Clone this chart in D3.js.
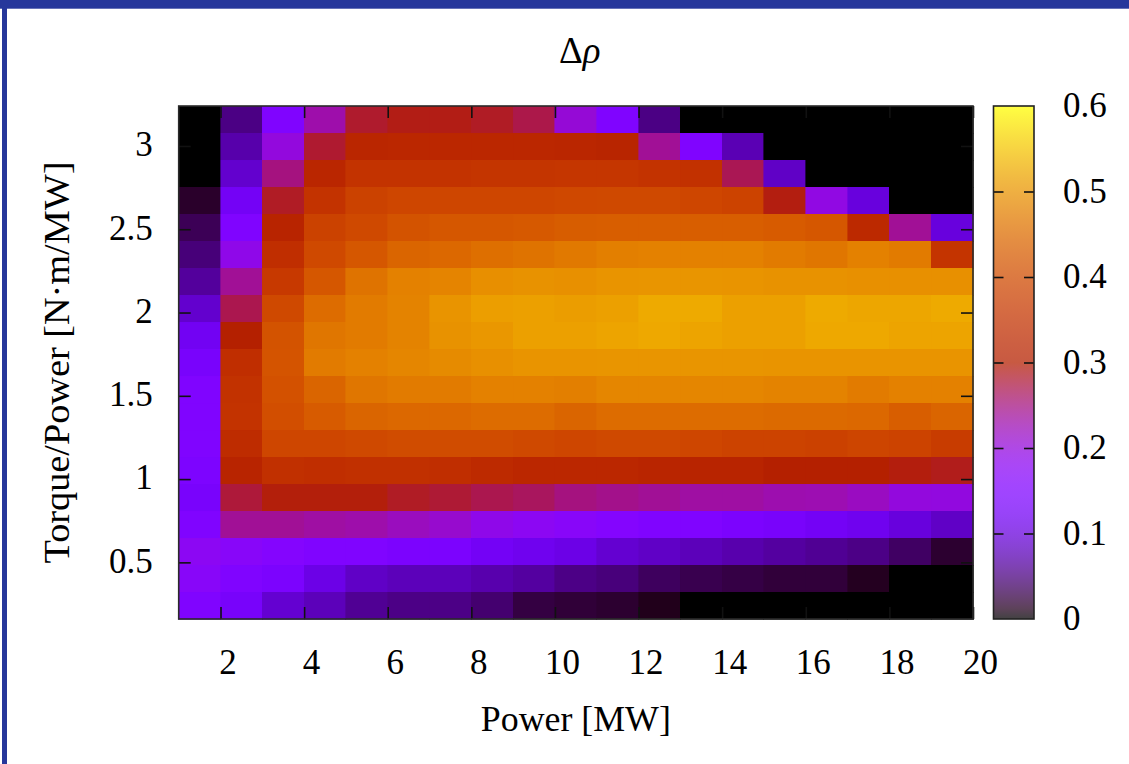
<!DOCTYPE html>
<html>
<head>
<meta charset="utf-8">
<script src="https://cdn.jsdelivr.net/npm/d3@7"></script>
<style>
  html, body { margin: 0; padding: 0; background: #fff; }
  svg { display: block; }
  text { font-family: "Liberation Serif", "Times New Roman", serif; fill: #000; }
</style>
</head>
<body>
<svg id="chart" width="1129" height="764"></svg>
<script>
// Column centres: power [MW]
const power = [1.5, 2.5, 3.5, 4.5, 5.5, 6.5, 7.5, 8.5, 9.5, 10.5,
               11.5, 12.5, 13.5, 14.5, 15.5, 16.5, 17.5, 18.5, 19.5];

// Row centres: torque/power [N·m/MW], listed from the top row down
const ratio = [3.157, 2.995, 2.833, 2.671, 2.509, 2.347, 2.185, 2.023, 1.861, 1.699,
               1.537, 1.375, 1.213, 1.051, 0.889, 0.727, 0.565, 0.403, 0.241];

// Δρ for each (ratio row, power column)
const deltaRho = [
  [0.000, 0.052, 0.150, 0.230, 0.283, 0.292, 0.292, 0.286, 0.272, 0.205, 0.150, 0.052, 0, 0, 0, 0, 0, 0, 0],
  [0.000, 0.070, 0.200, 0.282, 0.318, 0.322, 0.322, 0.322, 0.322, 0.318, 0.314, 0.240, 0.150, 0.075, 0, 0, 0, 0, 0],
  [0.000, 0.090, 0.250, 0.318, 0.350, 0.352, 0.352, 0.356, 0.356, 0.358, 0.358, 0.352, 0.346, 0.268, 0.085, 0, 0, 0, 0],
  [0.016, 0.125, 0.286, 0.352, 0.382, 0.390, 0.390, 0.390, 0.390, 0.394, 0.396, 0.396, 0.390, 0.384, 0.294, 0.195, 0.100, 0, 0],
  [0.033, 0.150, 0.312, 0.382, 0.396, 0.412, 0.420, 0.420, 0.422, 0.428, 0.430, 0.430, 0.430, 0.430, 0.425, 0.420, 0.326, 0.240, 0.100],
  [0.047, 0.190, 0.340, 0.396, 0.420, 0.440, 0.445, 0.455, 0.460, 0.468, 0.476, 0.478, 0.478, 0.478, 0.470, 0.464, 0.478, 0.470, 0.354],
  [0.063, 0.240, 0.364, 0.420, 0.460, 0.478, 0.482, 0.495, 0.498, 0.496, 0.500, 0.502, 0.502, 0.500, 0.498, 0.498, 0.496, 0.496, 0.496],
  [0.090, 0.270, 0.396, 0.450, 0.470, 0.480, 0.500, 0.512, 0.514, 0.510, 0.514, 0.524, 0.524, 0.514, 0.514, 0.524, 0.520, 0.520, 0.524],
  [0.120, 0.300, 0.412, 0.464, 0.470, 0.480, 0.498, 0.504, 0.514, 0.514, 0.518, 0.522, 0.518, 0.514, 0.514, 0.522, 0.522, 0.518, 0.518],
  [0.135, 0.340, 0.415, 0.470, 0.478, 0.484, 0.490, 0.496, 0.500, 0.500, 0.502, 0.502, 0.502, 0.502, 0.500, 0.500, 0.500, 0.500, 0.500],
  [0.150, 0.348, 0.410, 0.440, 0.464, 0.470, 0.470, 0.478, 0.478, 0.476, 0.484, 0.484, 0.484, 0.484, 0.480, 0.480, 0.470, 0.478, 0.478],
  [0.150, 0.350, 0.405, 0.425, 0.440, 0.445, 0.445, 0.450, 0.450, 0.440, 0.450, 0.450, 0.450, 0.450, 0.448, 0.448, 0.445, 0.430, 0.440],
  [0.150, 0.334, 0.390, 0.390, 0.395, 0.400, 0.400, 0.400, 0.395, 0.390, 0.395, 0.395, 0.390, 0.385, 0.385, 0.380, 0.388, 0.384, 0.370],
  [0.145, 0.312, 0.345, 0.340, 0.345, 0.345, 0.340, 0.330, 0.322, 0.322, 0.322, 0.316, 0.312, 0.312, 0.300, 0.300, 0.300, 0.295, 0.290],
  [0.135, 0.278, 0.296, 0.296, 0.296, 0.286, 0.280, 0.270, 0.264, 0.250, 0.245, 0.240, 0.234, 0.234, 0.228, 0.226, 0.218, 0.200, 0.198],
  [0.150, 0.240, 0.240, 0.234, 0.230, 0.220, 0.210, 0.190, 0.180, 0.170, 0.160, 0.152, 0.150, 0.142, 0.134, 0.124, 0.116, 0.100, 0.085],
  [0.180, 0.170, 0.160, 0.150, 0.150, 0.142, 0.142, 0.124, 0.116, 0.108, 0.092, 0.085, 0.078, 0.071, 0.065, 0.059, 0.053, 0.038, 0.018],
  [0.170, 0.150, 0.142, 0.108, 0.085, 0.078, 0.078, 0.071, 0.065, 0.053, 0.048, 0.036, 0.030, 0.026, 0.022, 0.022, 0.012, 0, 0],
  [0.150, 0.133, 0.092, 0.078, 0.059, 0.053, 0.053, 0.043, 0.025, 0.021, 0.018, 0.010, 0, 0, 0, 0, 0, 0, 0]
];

const xTicks = [2, 4, 6, 8, 10, 12, 14, 16, 18, 20];
const yTicks = [0.5, 1, 1.5, 2, 2.5, 3];
const yTickLabels = ["0.5", "1", "1.5", "2", "2.5", "3"];
const cbTicks = [0, 0.1, 0.2, 0.3, 0.4, 0.5, 0.6];
const cbTickLabels = ["0", "0.1", "0.2", "0.3", "0.4", "0.5", "0.6"];
const cbRange = [0, 0.6];

// gnuplot-style palette (rgbformulae 7,5,15): sqrt(t), t^3, sin(2πt)
function palette(t) {
  t = Math.max(0, Math.min(1, t));
  const r = Math.sqrt(t);
  const g = t * t * t;
  const b = Math.max(0, Math.sin(2 * Math.PI * t));
  return d3.rgb(255 * r, 255 * g, 255 * b);
}

const svg = d3.select("#chart");
const W = 1129, H = 764;
svg.append("rect").attr("width", W).attr("height", H).attr("fill", "#fff");

// frame decoration
const frameBlue = "#26379b";
svg.append("rect").attr("x", 0).attr("y", 0).attr("width", W).attr("height", 8.7).attr("fill", frameBlue);
svg.append("rect").attr("x", 2).attr("y", 0).attr("width", 5).attr("height", H).attr("fill", frameBlue);

const plot = { left: 178.7, right: 973, top: 106, bottom: 619 };

const x = d3.scaleLinear().domain([1, 20]).range([plot.left, plot.right]);
const y = d3.scaleLinear().domain([0.16, 3.24]).range([plot.bottom, plot.top]);
const color = d3.scaleLinear().domain(cbRange).range([0, 1]).clamp(true);

const colStep = power[1] - power[0];
const rowStep = ratio[0] - ratio[1];

const cells = [];
deltaRho.forEach((row, i) => {
  row.forEach((v, j) => cells.push({ p: power[j], r: ratio[i], v }));
});

svg.append("g").attr("class", "cells")
  .attr("shape-rendering", "crispEdges")
  .selectAll("rect").data(cells).join("rect")
  .attr("x", d => x(d.p - colStep / 2))
  .attr("y", d => y(d.r + rowStep / 2))
  .attr("width", d => x(d.p + colStep / 2) - x(d.p - colStep / 2))
  .attr("height", d => y(d.r - rowStep / 2) - y(d.r + rowStep / 2))
  .attr("fill", d => palette(color(d.v)))
  .attr("stroke", d => palette(color(d.v)))
  .attr("stroke-width", 0.6);

const fs = 35;
const tickLen = 12;

// bottom axis
const gx = svg.append("g").attr("transform", `translate(0,${plot.bottom})`)
  .call(d3.axisBottom(x).tickValues(xTicks).tickSizeInner(-tickLen).tickSizeOuter(0).tickPadding(30));
// top mirror ticks
const gxt = svg.append("g").attr("transform", `translate(0,${plot.top})`)
  .call(d3.axisTop(x).tickValues(xTicks).tickSizeInner(-tickLen).tickSizeOuter(0).tickFormat(""));
// left axis
const gy = svg.append("g").attr("transform", `translate(${plot.left},0)`)
  .call(d3.axisLeft(y).tickValues(yTicks).tickSizeInner(-tickLen).tickSizeOuter(0).tickPadding(26)
    .tickFormat((d, i) => yTickLabels[i]));
// right mirror ticks
const gyr = svg.append("g").attr("transform", `translate(${plot.right},0)`)
  .call(d3.axisRight(y).tickValues(yTicks).tickSizeInner(-tickLen).tickSizeOuter(0).tickFormat(""));

[gx, gxt, gy, gyr].forEach(g => {
  g.select(".domain").remove();
  g.selectAll(".tick line").attr("stroke", "#111").attr("stroke-width", 1.6);
  g.selectAll(".tick text").style("font-family", '"Liberation Serif", serif').style("font-size", fs + "px").attr("fill", "#000");
});
gx.selectAll(".tick text").attr("dx", 7);
gy.selectAll(".tick text").attr("dy", "0.28em");

// plot border
svg.append("rect")
  .attr("x", plot.left).attr("y", plot.top)
  .attr("width", plot.right - plot.left).attr("height", plot.bottom - plot.top)
  .attr("fill", "none").attr("stroke", "#2a2a2a").attr("stroke-width", 1.6);

// colour bar
const cb = { left: 993.5, right: 1034, top: plot.top, bottom: plot.bottom };
const cbY = d3.scaleLinear().domain(cbRange).range([cb.bottom, cb.top]);
const defs = svg.append("defs");
const grad = defs.append("linearGradient").attr("id", "cbgrad")
  .attr("x1", 0).attr("y1", 1).attr("x2", 0).attr("y2", 0);
d3.range(0, 1.0001, 0.02).forEach(t => {
  grad.append("stop").attr("offset", t).attr("stop-color", palette(t));
});
svg.append("rect")
  .attr("x", cb.left).attr("y", cb.top)
  .attr("width", cb.right - cb.left).attr("height", cb.bottom - cb.top)
  .attr("fill", "url(#cbgrad)").attr("fill-opacity", 0.74);

const gcb = svg.append("g").attr("transform", `translate(${cb.right},0)`)
  .call(d3.axisRight(cbY).tickValues(cbTicks).tickSizeInner(-10).tickSizeOuter(0).tickPadding(29)
    .tickFormat((d, i) => cbTickLabels[i]));
gcb.select(".domain").remove();
gcb.selectAll(".tick line").attr("stroke", "#111").attr("stroke-width", 1.6);
gcb.selectAll(".tick text").style("font-family", '"Liberation Serif", serif').style("font-size", fs + "px").attr("dy", "0.3em");
gcb.selectAll(".tick").filter(d => d === 0 || d === 0.6).select("line").remove();
const gcbl = svg.append("g").attr("transform", `translate(${cb.left},0)`)
  .call(d3.axisLeft(cbY).tickValues(cbTicks).tickSizeInner(-10).tickSizeOuter(0).tickFormat(""));
gcbl.select(".domain").remove();
gcbl.selectAll(".tick line").attr("stroke", "#111").attr("stroke-width", 1.6);
gcbl.selectAll(".tick").filter(d => d === 0 || d === 0.6).select("line").remove();

svg.append("rect")
  .attr("x", cb.left).attr("y", cb.top)
  .attr("width", cb.right - cb.left).attr("height", cb.bottom - cb.top)
  .attr("fill", "none").attr("stroke", "#222").attr("stroke-width", 1.6);

// titles
const title = svg.append("text")
  .attr("x", (plot.left + plot.right) / 2 + 4).attr("y", 63)
  .attr("text-anchor", "middle").style("font-size", "37px");
title.append("tspan").text("Δ");
title.append("tspan").style("font-style", "italic").text("ρ");

svg.append("text")
  .attr("x", (plot.left + plot.right) / 2).attr("y", 731)
  .attr("text-anchor", "middle").style("font-size", fs + "px")
  .attr("textLength", 190).attr("lengthAdjust", "spacingAndGlyphs")
  .text("Power [MW]");

svg.append("text")
  .attr("transform", `translate(69,${(plot.top + plot.bottom) / 2}) rotate(-90)`)
  .attr("text-anchor", "middle").style("font-size", "36px")
  .attr("textLength", 402).attr("lengthAdjust", "spacingAndGlyphs")
  .text("Torque/Power [N·m/MW]");
</script>
</body>
</html>
